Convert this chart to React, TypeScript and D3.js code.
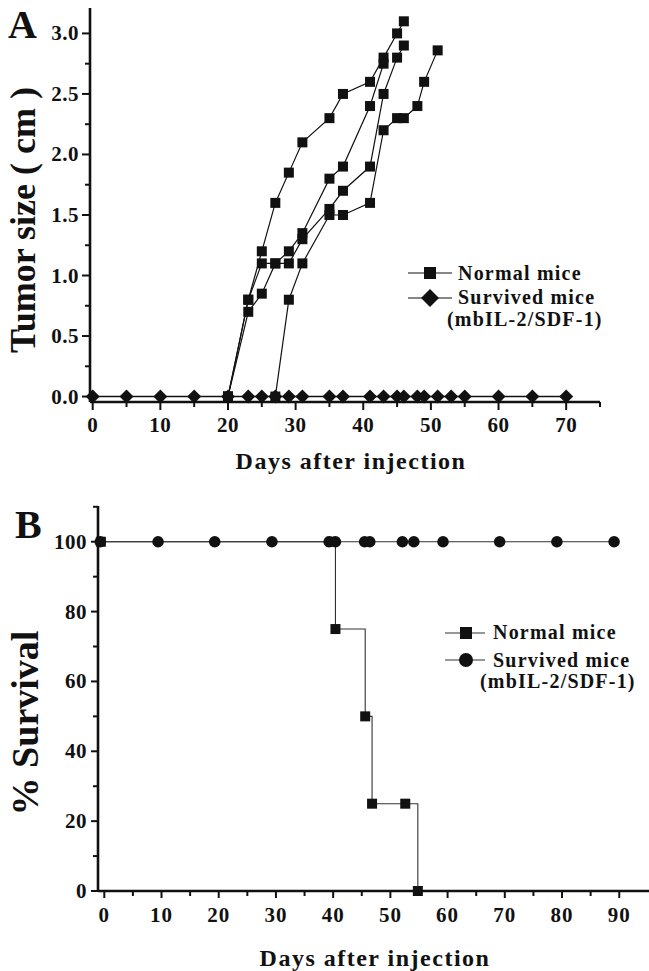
import * as d3 from "d3";

// ---- panel A: tumor size ----
const tumorDays1 = [20, 23, 25, 27, 29, 31, 35, 37, 41, 43, 45, 46];
const tumorSize1 = [0, 0.8, 1.2, 1.6, 1.85, 2.1, 2.3, 2.5, 2.6, 2.8, 3.0, 3.1];
const tumorDays2 = [20, 23, 25, 27, 29, 31, 35, 37, 41, 43];
const tumorSize2 = [0, 0.8, 1.1, 1.1, 1.2, 1.35, 1.8, 1.9, 2.4, 2.75];
const tumorDays3 = [20, 23, 25, 27, 29, 31, 35, 37, 41, 43, 45, 46];
const tumorSize3 = [0, 0.7, 0.85, 1.1, 1.1, 1.3, 1.55, 1.7, 1.9, 2.5, 2.8, 2.9];
const tumorDays4 = [27, 29, 31, 35, 37, 41, 43, 45, 46, 48, 49, 51];
const tumorSize4 = [0, 0.8, 1.1, 1.5, 1.5, 1.6, 2.2, 2.3, 2.3, 2.4, 2.6, 2.86];
const survivedDaysA = [0, 5, 10, 15, 20, 23, 25, 27, 29, 31, 35, 37, 41, 43, 45, 46, 48, 49, 51, 53, 55, 60, 65, 70];
const survivedSizeA = survivedDaysA.map(() => 0);

const tumorMajorTicks = [0, 0.5, 1.0, 1.5, 2.0, 2.5, 3.0];
const tumorMinorTicks = [0.25, 0.75, 1.25, 1.75, 2.25, 2.75];
const daysMajorA = [0, 10, 20, 30, 40, 50, 60, 70];
const daysMinorA = [5, 15, 25, 35, 45, 55, 65, 75];

// ---- panel B: survival ----
const normalSurvDays = [-0.6, 39.6, 40.4, 45.6, 46.8, 52.6, 54.8];
const normalSurvPct = [100, 100, 75, 50, 25, 25, 0];
const survivedSurvDays = [-0.7, 9.4, 19.3, 29.3, 39.3, 40.4, 45.5, 46.4, 52.1, 54.1, 59.2, 69.1, 79.1, 89.1];
const survivedSurvPct = survivedSurvDays.map(() => 100);

const survMajorTicks = [0, 20, 40, 60, 80, 100];
const survMinorTicks = [10, 30, 50, 70, 90, 110];
const daysMajorB = [0, 10, 20, 30, 40, 50, 60, 70, 80, 90];
const daysMinorB = [5, 15, 25, 35, 45, 55, 65, 75, 85];

const legendLabels = ["Normal mice", "Survived mice", "(mbIL-2/SDF-1)"];

const FONT = "'Liberation Serif', 'Times New Roman', serif";
const INK = "#111";

function zip(xs: number[], ys: number[]) {
  return xs.map((x, i) => ({ x, y: ys[i] }));
}

function diamond(cx: number, cy: number, r: number) {
  return `M${cx},${cy - r}L${cx + r},${cy}L${cx},${cy + r}L${cx - r},${cy}Z`;
}

function PanelA() {
  const x = d3.scaleLinear().domain([-0.4, 75]).range([90, 600]);
  const y = d3.scaleLinear().domain([-0.045, 3.21]).range([402, 8]);
  const line = d3
    .line<{ x: number; y: number }>()
    .x((d) => x(d.x))
    .y((d) => y(d.y));

  const normals = [
    zip(tumorDays1, tumorSize1),
    zip(tumorDays2, tumorSize2),
    zip(tumorDays3, tumorSize3),
    zip(tumorDays4, tumorSize4),
  ];
  const survived = zip(survivedDaysA, survivedSizeA);
  const sq = 10;
  const x0 = x.range()[0];

  return (
    <g>
      <text x={8} y={38} fontSize={40} fontWeight="bold" fontFamily={FONT} fill={INK}>
        A
      </text>
      {/* y axis */}
      <line x1={x0} x2={x0} y1={8} y2={402} stroke={INK} strokeWidth={2.6} />
      {tumorMajorTicks.map((t) => (
        <g key={"ya" + t}>
          <line x1={x0 - 8} x2={x0} y1={y(t)} y2={y(t)} stroke={INK} strokeWidth={2} />
          <text
            x={x0 - 11}
            y={y(t)}
            textAnchor="end"
            dominantBaseline="central"
            fontSize={21}
            fontWeight="bold"
            fontFamily={FONT}
            letterSpacing={0.5}
            fill={INK}
          >
            {t.toFixed(1)}
          </text>
        </g>
      ))}
      {tumorMinorTicks.map((t) => (
        <line key={"yam" + t} x1={x0 - 5} x2={x0} y1={y(t)} y2={y(t)} stroke={INK} strokeWidth={2} />
      ))}
      {/* x axis */}
      <line x1={x0} x2={600} y1={402} y2={402} stroke={INK} strokeWidth={2.6} />
      {daysMajorA.map((t) => (
        <g key={"xa" + t}>
          <line x1={x(t)} x2={x(t)} y1={402} y2={410} stroke={INK} strokeWidth={2} />
          <text
            x={x(t)}
            y={432}
            textAnchor="middle"
            fontSize={21}
            fontWeight="bold"
            fontFamily={FONT}
            letterSpacing={0.5}
            fill={INK}
          >
            {t}
          </text>
        </g>
      ))}
      {daysMinorA.map((t) => (
        <line key={"xam" + t} x1={x(t)} x2={x(t)} y1={402} y2={407} stroke={INK} strokeWidth={2} />
      ))}
      <text
        x={351}
        y={469}
        textAnchor="middle"
        fontSize={24}
        fontWeight="bold"
        fontFamily={FONT}
        letterSpacing={1.5}
        fill={INK}
      >
        Days after injection
      </text>
      <text
        transform={`translate(35,220) rotate(-90)`}
        textAnchor="middle"
        fontSize={36}
        fontWeight="bold"
        fontFamily={FONT}
        fill={INK}
      >
        Tumor size ( cm )
      </text>

      {/* series */}
      <path d={line(survived) ?? ""} fill="none" stroke={INK} strokeWidth={1.4} />
      {normals.map((s, i) => (
        <path key={"n" + i} d={line(s) ?? ""} fill="none" stroke={INK} strokeWidth={1.2} />
      ))}
      {normals.map((s, i) =>
        s.map((d, j) => (
          <rect key={`s${i}-${j}`} x={x(d.x) - sq / 2} y={y(d.y) - sq / 2} width={sq} height={sq} fill={INK} />
        ))
      )}
      {survived.map((d, j) => (
        <path key={"d" + j} d={diamond(x(d.x), y(d.y), 7)} fill={INK} />
      ))}

      {/* legend */}
      <line x1={408} x2={452} y1={273} y2={273} stroke={INK} strokeWidth={1.2} />
      <rect x={430 - 6} y={273 - 6} width={12} height={12} fill={INK} />
      <line x1={408} x2={452} y1={298} y2={298} stroke={INK} strokeWidth={1.2} />
      <path d={diamond(430, 298, 9)} fill={INK} />
      <g fontSize={20} fontWeight="bold" fontFamily={FONT} fill={INK} letterSpacing={1.2}>
        <text x={458} y={280}>{legendLabels[0]}</text>
        <text x={458} y={304}>{legendLabels[1]}</text>
        <text x={447} y={326}>{legendLabels[2]}</text>
      </g>
    </g>
  );
}

function PanelB() {
  const x = d3.scaleLinear().domain([-1.1, 95.2]).range([98, 649]);
  const y = d3.scaleLinear().domain([0, 110]).range([891, 506.8]);
  const line = d3
    .line<{ x: number; y: number }>()
    .x((d) => x(d.x))
    .y((d) => y(d.y));
  const step = d3
    .line<{ x: number; y: number }>()
    .x((d) => x(d.x))
    .y((d) => y(d.y))
    .curve(d3.curveStepAfter);

  const normal = zip(normalSurvDays, normalSurvPct);
  const survived = zip(survivedSurvDays, survivedSurvPct);
  const x0 = x.range()[0];
  const sq = 10;

  return (
    <g>
      <text x={15} y={538} fontSize={40} fontWeight="bold" fontFamily={FONT} fill={INK}>
        B
      </text>
      <line x1={x0} x2={x0} y1={506} y2={891} stroke={INK} strokeWidth={2.6} />
      {survMajorTicks.map((t) => (
        <g key={"yb" + t}>
          <line x1={x0 - 7} x2={x0} y1={y(t)} y2={y(t)} stroke={INK} strokeWidth={2} />
          <text
            x={x0 - 11}
            y={y(t)}
            textAnchor="end"
            dominantBaseline="central"
            fontSize={21}
            fontWeight="bold"
            fontFamily={FONT}
            letterSpacing={0.5}
            fill={INK}
          >
            {t}
          </text>
        </g>
      ))}
      {survMinorTicks.map((t) => (
        <line key={"ybm" + t} x1={x0 - 5} x2={x0} y1={y(t)} y2={y(t)} stroke={INK} strokeWidth={2} />
      ))}
      <line x1={x0} x2={649} y1={891} y2={891} stroke={INK} strokeWidth={2.6} />
      {daysMajorB.map((t) => (
        <g key={"xb" + t}>
          <line x1={x(t)} x2={x(t)} y1={891} y2={898} stroke={INK} strokeWidth={2} />
          <text
            x={x(t)}
            y={922}
            textAnchor="middle"
            fontSize={21}
            fontWeight="bold"
            fontFamily={FONT}
            letterSpacing={1}
            fill={INK}
          >
            {t}
          </text>
        </g>
      ))}
      {daysMinorB.map((t) => (
        <line key={"xbm" + t} x1={x(t)} x2={x(t)} y1={891} y2={896} stroke={INK} strokeWidth={2} />
      ))}
      <text
        x={375}
        y={966}
        textAnchor="middle"
        fontSize={24}
        fontWeight="bold"
        fontFamily={FONT}
        letterSpacing={1.5}
        fill={INK}
      >
        Days after injection
      </text>
      <text
        transform={`translate(38,723) rotate(-90)`}
        textAnchor="middle"
        fontSize={38}
        fontWeight="bold"
        fontFamily={FONT}
        fill={INK}
      >
        % Survival
      </text>

      <path d={step(normal) ?? ""} fill="none" stroke="#333" strokeWidth={1.1} />
      <path d={line(survived) ?? ""} fill="none" stroke="#333" strokeWidth={1.1} />
      {normal.map((d, j) => (
        <rect key={"bs" + j} x={x(d.x) - sq / 2} y={y(d.y) - sq / 2} width={sq} height={sq} fill={INK} />
      ))}
      {survived.map((d, j) => (
        <circle key={"bc" + j} cx={x(d.x)} cy={y(d.y)} r={5.8} fill={INK} />
      ))}

      {/* legend */}
      <line x1={445} x2={485} y1={633} y2={633} stroke="#333" strokeWidth={1.1} />
      <rect x={466 - 6} y={633 - 6} width={12} height={12} fill={INK} />
      <line x1={445} x2={485} y1={660} y2={660} stroke="#333" strokeWidth={1.1} />
      <circle cx={466} cy={660} r={7} fill={INK} />
      <g fontSize={20} fontWeight="bold" fontFamily={FONT} fill={INK} letterSpacing={1.2}>
        <text x={493} y={639}>{legendLabels[0]}</text>
        <text x={493} y={667}>{legendLabels[1]}</text>
        <text x={480} y={688}>{legendLabels[2]}</text>
      </g>
    </g>
  );
}

export default function App() {
  return (
    <svg
      width={649}
      height={971}
      viewBox="0 0 649 971"
      style={{ position: "absolute", left: 0, top: 0, background: "#fff" }}
    >
      <rect width={649} height={971} fill="#fff" />
      <PanelA />
      <PanelB />
    </svg>
  );
}
